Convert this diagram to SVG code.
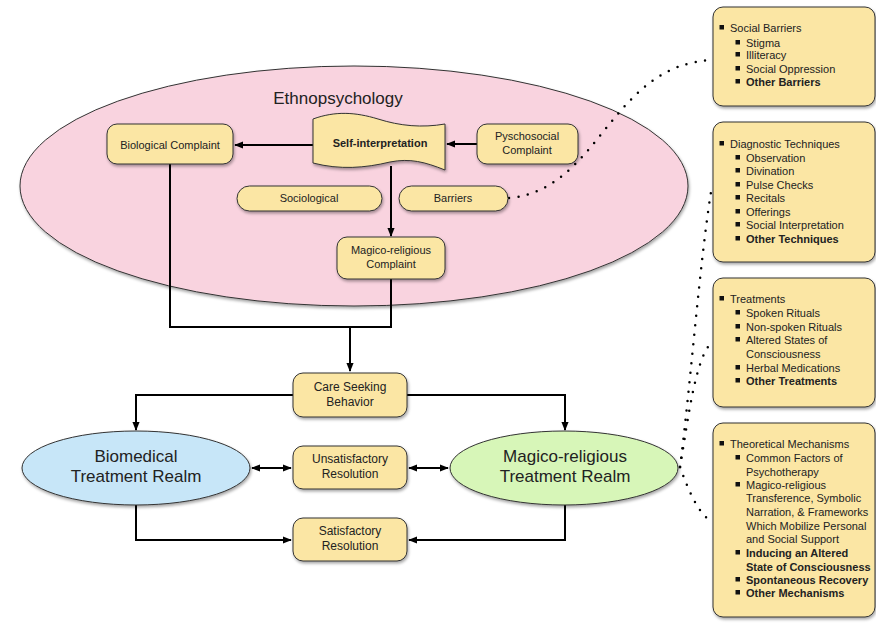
<svg xmlns="http://www.w3.org/2000/svg" width="876" height="623" viewBox="0 0 876 623">
<defs>
<filter id="sh" x="-10%" y="-10%" width="130%" height="140%">
<feDropShadow dx="1" dy="2" stdDeviation="1.5" flood-color="#000" flood-opacity="0.35"/>
</filter>
<marker id="ah" viewBox="0 0 10 10" refX="9" refY="5" markerWidth="9" markerHeight="9" markerUnits="userSpaceOnUse" orient="auto-start-reverse">
<path d="M0,1 L10,5 L0,9 Z" fill="#000"/>
</marker>
<rect id="b" width="4.5" height="4.5" fill="#111"/>
</defs>
<style>
text{font-family:"Liberation Sans",Arial,sans-serif;fill:#222}
.bx{fill:#fbe6a4;stroke:#333;stroke-width:1;filter:url(#sh)}
.t{font-size:11px;text-anchor:middle}
.big{font-size:17px;text-anchor:middle}
.ln{fill:none;stroke:#000;stroke-width:2}
.dot{fill:none;stroke:#000;stroke-width:2.5;stroke-linecap:round;stroke-dasharray:0 9.5}
.lt{font-size:11px}
.bd{font-weight:bold}
</style>

<g id="ethnopsychology">
<ellipse cx="354" cy="186" rx="334" ry="120" fill="#f9d3df" stroke="#333" stroke-width="1" filter="url(#sh)"/>
<text class="big" x="338" y="104">Ethnopsychology</text>
</g>

<g id="connectors">
<path class="ln" d="M477,144 L447,144" marker-end="url(#ah)"/>
<path class="ln" d="M313,145 L235,145" marker-end="url(#ah)"/>
<path class="ln" d="M391,166 L391,236" marker-end="url(#ah)"/>
<path class="ln" d="M170,164 L170,327 L391,327 L391,279"/>
<path class="ln" d="M350,327 L350,371" marker-end="url(#ah)"/>
<path class="ln" d="M293,395 L136,395 L136,430" marker-end="url(#ah)"/>
<path class="ln" d="M407,395 L565,395 L565,430" marker-end="url(#ah)"/>
<path class="ln" d="M252,468 L291,468" marker-start="url(#ah)" marker-end="url(#ah)"/>
<path class="ln" d="M409,468 L448,468" marker-start="url(#ah)" marker-end="url(#ah)"/>
<path class="ln" d="M136,505 L136,540 L291,540" marker-end="url(#ah)"/>
<path class="ln" d="M565,505 L565,540 L409,540" marker-end="url(#ah)"/>
<path class="dot" d="M509,198 C 600,190 610,65 712,60"/>
<path class="dot" d="M680,467 C 690,390 700,260 711,192"/>
<path class="dot" d="M680,467 C 688,420 695,360 711,343"/>
<path class="dot" d="M680,467 C 690,495 700,515 711,521"/>
</g>

<g id="biological">
<rect class="bx" x="107" y="124" width="126" height="40" rx="10"/>
<text class="t" x="170" y="149">Biological Complaint</text>
</g>

<g id="self-interpretation">
<path class="bx" d="M313,119 C 335,111 355,112 378,119 C 400,126 422,128 445,124 L445,170 C 425,162 410,158 390,162 C 365,168 340,170 313,163 Z"/>
<text class="t bd" x="380" y="147">Self-interpretation</text>
</g>

<g id="psychosocial">
<rect class="bx" x="477" y="124" width="101" height="40" rx="10"/>
<text class="t" x="527" y="140">Pyschosocial</text>
<text class="t" x="527" y="154">Complaint</text>
</g>

<g id="sociological">
<rect class="bx" x="237" y="186" width="145" height="25" rx="12.5"/>
<text class="t" x="309" y="202">Sociological</text>
</g>

<g id="barriers">
<rect class="bx" x="399" y="186" width="109" height="25" rx="12.5"/>
<text class="t" x="453" y="202">Barriers</text>
</g>

<g id="magico-complaint">
<rect class="bx" x="337" y="237" width="108" height="42" rx="10"/>
<text class="t" x="391" y="254">Magico-religious</text>
<text class="t" x="391" y="268">Complaint</text>
</g>

<g id="care-seeking">
<rect class="bx" x="293" y="373" width="114" height="44" rx="10"/>
<text class="t" x="350" y="391" style="font-size:12px">Care Seeking</text>
<text class="t" x="350" y="406" style="font-size:12px">Behavior</text>
</g>

<g id="unsatisfactory">
<rect class="bx" x="293" y="446" width="114" height="43" rx="10"/>
<text class="t" x="350" y="463" style="font-size:12px">Unsatisfactory</text>
<text class="t" x="350" y="478" style="font-size:12px">Resolution</text>
</g>

<g id="satisfactory">
<rect class="bx" x="293" y="518" width="114" height="43" rx="10"/>
<text class="t" x="350" y="535" style="font-size:12px">Satisfactory</text>
<text class="t" x="350" y="550" style="font-size:12px">Resolution</text>
</g>

<g id="biomedical">
<ellipse cx="136" cy="468" rx="114" ry="37" fill="#c7e6f8" stroke="#333" stroke-width="1" filter="url(#sh)"/>
<text class="big" x="136" y="462">Biomedical</text>
<text class="big" x="136" y="482">Treatment Realm</text>
</g>

<g id="magico-realm">
<ellipse cx="564" cy="468" rx="114" ry="37" fill="#d7f6b8" stroke="#333" stroke-width="1" filter="url(#sh)"/>
<text class="big" x="565" y="462">Magico-religious</text>
<text class="big" x="565" y="482">Treatment Realm</text>
</g>

<g id="box-barriers">
<rect class="bx" x="713" y="7" width="162" height="99" rx="10"/>
<use href="#b" x="719.5" y="25"/><text class="lt" x="730" y="32">Social Barriers</text>
<use href="#b" x="735.5" y="40"/><text class="lt" x="746" y="47">Stigma</text>
<use href="#b" x="735.5" y="52"/><text class="lt" x="746" y="59">Illiteracy</text>
<use href="#b" x="735.5" y="66"/><text class="lt" x="746" y="73">Social Oppression</text>
<use href="#b" x="735.5" y="79"/><text class="lt bd" x="746" y="86">Other Barriers</text>
</g>

<g id="box-diagnostic">
<rect class="bx" x="713" y="122" width="162" height="140" rx="10"/>
<use href="#b" x="719.5" y="141"/><text class="lt" x="730" y="148">Diagnostic Techniques</text>
<use href="#b" x="735.5" y="155"/><text class="lt" x="746" y="162">Observation</text>
<use href="#b" x="735.5" y="168"/><text class="lt" x="746" y="175">Divination</text>
<use href="#b" x="735.5" y="182"/><text class="lt" x="746" y="189">Pulse Checks</text>
<use href="#b" x="735.5" y="195"/><text class="lt" x="746" y="202">Recitals</text>
<use href="#b" x="735.5" y="209"/><text class="lt" x="746" y="216">Offerings</text>
<use href="#b" x="735.5" y="222"/><text class="lt" x="746" y="229">Social Interpretation</text>
<use href="#b" x="735.5" y="236"/><text class="lt bd" x="746" y="243">Other Techniques</text>
</g>

<g id="box-treatments">
<rect class="bx" x="713" y="278" width="162" height="129" rx="10"/>
<use href="#b" x="719.5" y="296"/><text class="lt" x="730" y="303">Treatments</text>
<use href="#b" x="735.5" y="310"/><text class="lt" x="746" y="317">Spoken Rituals</text>
<use href="#b" x="735.5" y="324"/><text class="lt" x="746" y="331">Non-spoken Rituals</text>
<use href="#b" x="735.5" y="337"/><text class="lt" x="746" y="344">Altered States of</text>
<text class="lt" x="746" y="358">Consciousness</text>
<use href="#b" x="735.5" y="365"/><text class="lt" x="746" y="372">Herbal Medications</text>
<use href="#b" x="735.5" y="378"/><text class="lt bd" x="746" y="385">Other Treatments</text>
</g>

<g id="box-mechanisms">
<rect class="bx" x="713" y="423" width="162" height="194" rx="10"/>
<use href="#b" x="719.5" y="441"/><text class="lt" x="730" y="448">Theoretical Mechanisms</text>
<use href="#b" x="735.5" y="455"/><text class="lt" x="746" y="462">Common Factors of</text>
<text class="lt" x="746" y="476">Psychotherapy</text>
<use href="#b" x="735.5" y="482"/><text class="lt" x="746" y="489">Magico-religious</text>
<text class="lt" x="746" y="502">Transference, Symbolic</text>
<text class="lt" x="746" y="516">Narration, &amp; Frameworks</text>
<text class="lt" x="746" y="530">Which Mobilize Personal</text>
<text class="lt" x="746" y="543">and Social Support</text>
<use href="#b" x="735.5" y="550"/><text class="lt bd" x="746" y="557">Inducing an Altered</text>
<text class="lt bd" x="746" y="571">State of Consciousness</text>
<use href="#b" x="735.5" y="577"/><text class="lt bd" x="746" y="584">Spontaneous Recovery</text>
<use href="#b" x="735.5" y="590"/><text class="lt bd" x="746" y="597">Other Mechanisms</text>
</g>
</svg>
